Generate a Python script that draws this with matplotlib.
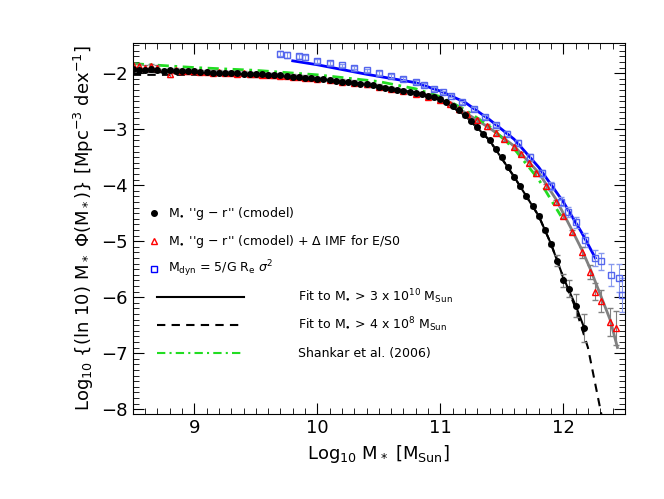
import numpy as np
import matplotlib
matplotlib.use("Agg")
import matplotlib.pyplot as plt

bk_x = [8.5,8.55,8.6,8.65,8.7,8.75,8.8,8.85,8.9,8.95,9.0,9.05,9.1,9.15,9.2,9.25,9.3,9.35,9.4,9.45,9.5,9.55,9.6,9.65,9.7,9.75,9.8,9.85,9.9,9.95,10.0,10.05,10.1,10.15,10.2,10.25,10.3,10.35,10.4,10.45,10.5,10.55,10.6,10.65,10.7,10.75,10.8,10.85,10.9,10.95,11.0,11.05,11.1,11.15,11.2,11.25,11.3,11.35,11.4,11.45,11.5,11.55,11.6,11.65,11.7,11.75,11.8,11.85,11.9,11.95,12.0,12.05,12.1,12.17]
bk_y = [-1.92,-1.94,-1.95,-1.93,-1.94,-1.96,-1.95,-1.97,-1.96,-1.97,-1.97,-1.98,-1.98,-1.99,-1.99,-2.0,-2.0,-2.0,-2.01,-2.01,-2.02,-2.02,-2.03,-2.03,-2.04,-2.05,-2.06,-2.07,-2.08,-2.09,-2.1,-2.11,-2.12,-2.14,-2.15,-2.16,-2.17,-2.19,-2.2,-2.22,-2.24,-2.26,-2.28,-2.3,-2.32,-2.34,-2.36,-2.38,-2.4,-2.43,-2.46,-2.51,-2.58,-2.66,-2.75,-2.85,-2.96,-3.08,-3.2,-3.35,-3.5,-3.67,-3.85,-4.02,-4.2,-4.37,-4.55,-4.8,-5.05,-5.35,-5.7,-5.85,-6.15,-6.55]
rd_x = [8.5,8.55,8.6,8.65,8.7,8.8,8.85,8.9,8.95,9.0,9.05,9.1,9.15,9.2,9.25,9.3,9.35,9.4,9.45,9.5,9.55,9.6,9.65,9.7,9.75,9.8,9.85,9.9,9.95,10.0,10.1,10.2,10.3,10.4,10.5,10.6,10.7,10.8,10.9,11.0,11.08,11.15,11.22,11.3,11.38,11.45,11.52,11.6,11.66,11.72,11.78,11.86,11.94,12.0,12.07,12.15,12.22,12.26,12.31,12.38,12.43]
rd_y = [-1.85,-1.87,-1.9,-1.88,-1.9,-2.02,-1.95,-1.96,-1.97,-1.97,-1.98,-1.98,-1.99,-1.98,-2.0,-2.0,-2.01,-2.0,-2.02,-2.02,-2.03,-2.03,-2.04,-2.05,-2.05,-2.06,-2.07,-2.08,-2.09,-2.1,-2.12,-2.15,-2.17,-2.2,-2.24,-2.28,-2.32,-2.37,-2.42,-2.48,-2.55,-2.64,-2.73,-2.84,-2.95,-3.06,-3.18,-3.32,-3.44,-3.6,-3.79,-4.02,-4.3,-4.55,-4.84,-5.2,-5.55,-5.9,-6.07,-6.45,-6.55]
bl_x = [9.7,9.75,9.85,9.9,10.0,10.1,10.2,10.3,10.4,10.5,10.6,10.7,10.8,10.87,10.95,11.02,11.09,11.18,11.27,11.36,11.45,11.54,11.63,11.73,11.83,11.9,11.98,12.04,12.1,12.18,12.26,12.31,12.39,12.45,12.48]
bl_y = [-1.65,-1.68,-1.7,-1.72,-1.78,-1.82,-1.86,-1.9,-1.95,-2.0,-2.05,-2.1,-2.16,-2.21,-2.28,-2.34,-2.4,-2.52,-2.64,-2.78,-2.93,-3.08,-3.25,-3.5,-3.79,-4.02,-4.3,-4.48,-4.66,-4.98,-5.3,-5.36,-5.6,-5.66,-5.96]
bl_err = [0.05,0.05,0.04,0.04,0.03,0.03,0.03,0.03,0.03,0.03,0.03,0.03,0.03,0.03,0.03,0.03,0.03,0.03,0.03,0.04,0.04,0.05,0.05,0.06,0.06,0.07,0.08,0.09,0.1,0.12,0.15,0.15,0.2,0.25,0.3]
fit_x = [8.5,9.0,9.5,10.0,10.5,10.8,11.0,11.2,11.4,11.6,11.8,11.9,12.0,12.1,12.17]
fit_y = [-1.97,-2.0,-2.02,-2.1,-2.23,-2.35,-2.47,-2.75,-3.2,-3.85,-4.55,-5.05,-5.65,-6.15,-6.55]
dash_x = [8.5,9.0,9.5,10.0,10.5,10.8,11.0,11.2,11.4,11.6,11.8,11.9,12.0,12.1,12.2,12.31]
dash_y = [-2.03,-2.03,-2.04,-2.1,-2.23,-2.35,-2.47,-2.75,-3.2,-3.85,-4.55,-5.05,-5.65,-6.2,-6.9,-8.1]
gr_x = [10.0,10.4,10.8,11.0,11.2,11.4,11.6,11.8,11.94,12.07,12.15,12.22,12.3,12.38,12.44]
gr_y = [-2.12,-2.2,-2.36,-2.47,-2.7,-2.98,-3.3,-3.78,-4.25,-4.8,-5.15,-5.5,-5.95,-6.4,-6.9]
bf_x = [9.8,10.0,10.4,10.8,11.0,11.2,11.4,11.6,11.8,12.0,12.15,12.26]
bf_y = [-1.78,-1.85,-2.02,-2.17,-2.32,-2.52,-2.83,-3.18,-3.68,-4.3,-4.85,-5.3]
sh_x = [8.5,9.0,9.5,10.0,10.5,10.8,11.0,11.2,11.4,11.6,11.8,11.98]
sh_y = [-1.83,-1.9,-1.95,-2.03,-2.15,-2.28,-2.42,-2.65,-2.95,-3.35,-3.9,-4.55]

fig = plt.figure(figsize=(6.64,4.99), dpi=100)
ax = fig.add_axes([0.2,0.17,0.741,0.744])
ax.plot(bf_x, bf_y, color='blue', lw=2)
ax.plot(gr_x, gr_y, color='gray', lw=2)
ax.plot(sh_x, sh_y, color='#22dd22', lw=2, ls=(0,(4,2,1,2)))
ax.plot(dash_x, dash_y, color='black', lw=1.5, ls=(0,(4,3)))
ax.plot(fit_x, fit_y, color='black', lw=1.5)
ax.errorbar(bl_x, bl_y, yerr=bl_err, fmt='s', mfc='none', mec='#5566ee', ms=5, ecolor='#8899ee', capsize=2, lw=0.8)
ax.errorbar(rd_x, rd_y, yerr=[0.04]*(len(rd_x)-6)+[0.1,0.12,0.15,0.2,0.25,0.3], fmt='^', mfc='none', mec='red', ms=5, ecolor='gray', capsize=2, lw=0.8)
ax.errorbar(bk_x, bk_y, yerr=[0.03]*(len(bk_x)-5)+[0.1,0.12,0.15,0.2,0.25], fmt='o', color='black', ms=4, ecolor='gray', capsize=2, lw=0.8)

ax.set_xlim(8.5,12.5)
ax.set_ylim(-8.09,-1.46)
ax.set_xticks([9,10,11,12])
ax.set_yticks([-8,-7,-6,-5,-4,-3,-2])
ax.set_yticklabels(['−8','−7','−6','−5','−4','−3','−2'])
ax.xaxis.set_minor_locator(matplotlib.ticker.MultipleLocator(0.1))
ax.yaxis.set_minor_locator(matplotlib.ticker.MultipleLocator(0.1))
ax.tick_params(which='both', direction='in', top=True, right=True, labelsize=13)
ax.tick_params(which='major', length=8)
ax.tick_params(which='minor', length=4)
ax.set_xlabel(r'Log$_{10}$ M$_*$ [M$_{\rm Sun}$]', fontsize=13)
ax.set_ylabel(r'Log$_{10}$ {(ln 10) M$_*$ $\Phi$(M$_*$)} [Mpc$^{-3}$ dex$^{-1}$]', fontsize=13)

rows = [(-4.5,'o'),(-5.0,'^'),(-5.5,'s'),(-6.0,'-'),(-6.5,'--'),(-7.0,'-.')]
labels = [r"M$_{\bullet}$ ''g $-$ r'' (cmodel)",
          r"M$_{\bullet}$ ''g $-$ r'' (cmodel) + $\Delta$ IMF for E/S0",
          r"M$_{\rm dyn}$ = 5/G R$_{\rm e}$ $\sigma^2$",
          r"Fit to M$_{\bullet}$ > 3 x 10$^{10}$ M$_{\rm Sun}$",
          r"Fit to M$_{\bullet}$ > 4 x 10$^{8}$ M$_{\rm Sun}$",
          "Shankar et al. (2006)"]
for (yv, st), lab in zip(rows, labels):
    if st == 'o':
        ax.plot([8.67],[yv],'o',color='black',ms=4); tx = 8.79
    elif st == '^':
        ax.plot([8.67],[yv],'^',mfc='none',mec='red',ms=5); tx = 8.79
    elif st == 's':
        ax.plot([8.67],[yv],'s',mfc='none',mec='blue',ms=5); tx = 8.79
    else:
        kw = {'-':dict(ls='-',color='black'),'--':dict(ls=(0,(4,3)),color='black'),'-.':dict(ls=(0,(4,2,1,2)),color='#22dd22')}[st]
        ax.plot([8.7,9.4],[yv,yv],lw=1.5,**kw); tx = 9.84
    ax.text(tx, yv, lab, fontsize=9, va='center')
fig.savefig('out.png', dpi=100)
